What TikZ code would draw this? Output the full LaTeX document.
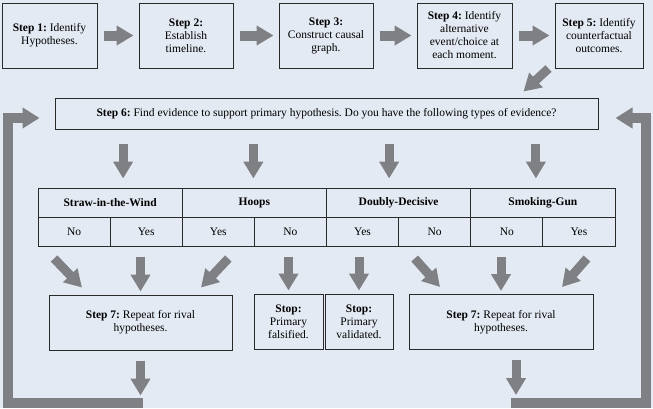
\documentclass[tikz,border=0pt]{standalone}
\usepackage{fontspec}
\setmainfont{Liberation Serif}
\usetikzlibrary{arrows.meta,positioning,calc}
\definecolor{bgblue}{HTML}{E4EAF3}
\definecolor{arrowgray}{HTML}{7F8083}
\definecolor{boxline}{HTML}{2A2A2A}
\frenchspacing

\begin{document}
\begin{tikzpicture}[x=1pt,y=-1pt,
    box/.style={draw=boxline, line width=1pt, fill=bgblue, align=center, inner sep=0pt, font=\fontsize{11.5}{13}\selectfont},
    cell/.style={box, minimum height=29pt},
    arr/.style={draw=arrowgray, line width=9pt, -{Triangle[length=17pt,width=19pt]}},
    looparr/.style={draw=arrowgray, line width=10pt, -{Triangle[length=17pt,width=20pt]}}]
    % Background
    \fill[bgblue] (0,0) rectangle (653,408);
    \useasboundingbox (0,0) rectangle (653,408);

    % Steps 1 to 5
    \node[box, minimum width=95pt, minimum height=65pt] (s1) at (49.5,35.5) {\textbf{Step 1:} Identify\\Hypotheses.};
    \node[box, minimum width=94pt, minimum height=65pt] (s2) at (186,35.5) {\textbf{Step 2:}\\Establish\\timeline.};
    \node[box, minimum width=94pt, minimum height=65pt] (s3) at (326,35.5) {\textbf{Step 3:}\\Construct causal\\graph.};
    \node[box, minimum width=95pt, minimum height=65pt] (s4) at (464.5,35.5) {\textbf{Step 4:} Identify\\alternative\\event/choice at\\each moment.};
    \node[box, minimum width=88pt, minimum height=65pt] (s5) at (599,35.5) {\textbf{Step 5:} Identify\\counterfactual\\outcomes.};
    \foreach \a/\b in {s1/s2,s2/s3,s3/s4,s4/s5}
        \draw[arr, line width=10pt, shorten <=6pt, shorten >=5pt] (\a) -- (\b);

    % Step 6
    \node[box, minimum width=543pt, minimum height=31pt] (s6) at (326.5,113.5) {\textbf{Step 6:} Find evidence to support primary hypothesis. Do you have the following types of evidence?};
    \draw[arr] ($(s5.south west)+(-6,0)$) -- ($(s6.north east)+(-75,-6)$);

    % Evidence table
    \foreach \name [count=\i] in {Straw-in-the-Wind,Hoops,Doubly-Decisive,Smoking-Gun}
        \node[cell, minimum width=144.25pt] (t\i) at ({38+144.25*(\i-0.5)},202.5) {\textbf{\name}};
    \foreach \ans [count=\j] in {No,Yes,Yes,No,Yes,No,No,Yes}
        \node[cell, minimum width=72.125pt] (c\j) at ({38+72.125*(\j-0.5)},231.5) {\ans};
    \foreach \i/\dx in {1/13,2/-1,3/-9.5,4/-7}
        \draw[arr] ($(t\i.north)+(\dx,-44)$) -- ($(t\i.north)+(\dx,-9)$);

    % Step 7 and stops
    \node[box, minimum width=183pt, minimum height=55pt] (L7) at (140.5,322.5) {\textbf{Step 7:} Repeat for rival\\hypotheses.};
    \node[box, minimum width=69pt, minimum height=55pt] (F) at (288.5,321.5) {\textbf{Stop:}\\Primary\\falsified.};
    \node[box, minimum width=68pt, minimum height=55pt] (V) at (359,321.5) {\textbf{Stop:}\\Primary\\validated.};
    \node[box, minimum width=184pt, minimum height=55pt] (R7) at (501,322) {\textbf{Step 7:} Repeat for rival\\hypotheses.};

    \draw[arr] ($(c1.south)+(-20,12)$) -- ($(L7.north)+(-58.5,-7)$);
    \draw[arr, shorten <=10pt, shorten >=3pt] (c2.south -| L7.north) -- (L7.north);
    \draw[arr] ($(c3.south)+(10,12)$) -- ($(L7.north)+(60.5,-7)$);
    \draw[arr, shorten <=10pt, shorten >=3pt] (c4.south -| F.north) -- (F.north);
    \draw[arr, shorten <=10pt, shorten >=3pt] (c5.south -| V.north) -- (V.north);
    \draw[arr] ($(c6.south)+(-20,12)$) -- ($(R7.north)+(-61,-7)$);
    \draw[arr, shorten <=10pt, shorten >=3pt] (c7.south -| R7.north) -- (R7.north);
    \draw[arr] ($(c8.south)+(8,12)$) -- ($(R7.north)+(61,-7)$);

    % Loops back to Step 6
    \draw[arr, shorten <=10pt] (L7.south) -- ($(L7.south)+(0,45)$);
    \draw[arr, shorten <=10pt] ($(R7.south)+(15,0)$) -- ($(R7.south)+(15,45)$);
    \draw[looparr] ($(L7.south)+(2.5,52)$) -| ($(s6.west)+(-47,4.5)$) -- ($(s6.west)+(-15,4.5)$);
    \draw[looparr] ($(R7.south)+(10,52.5)$) -| ($(s6.east)+(47,4.5)$) -- ($(s6.east)+(17,4.5)$);
\end{tikzpicture}
\end{document}
